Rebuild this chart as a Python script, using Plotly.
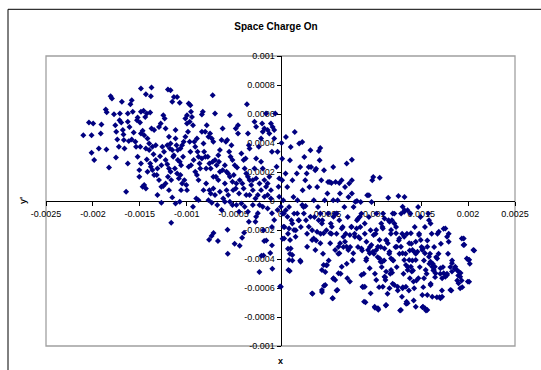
import plotly.graph_objects as go

# Particle coordinates, in micro-units (1e-6)
# upper-left lobe (x < 0)
x_left = [
    -2102,-2042,-1997,-2014,-2014,-1986,-1937,-1909,-1916,-1863,-1853,-1856,-1828,
    -1811,-1797,-1775,-1761,-1751,-1740,-1754,-1716,-1712,-1698,-1723,-1691,-1681,-1674,-1663,-1670,-1646,-1628,-1628,-1610,-1618,-1628,
    -1600,-1586,-1575,-1586,-1565,-1547,-1540,-1523,-1530,-1523,-1505,-1488,-1505,-1488,-1495,-1498,
    -1488,-1435,-1382,-1488,-1460,-1442,-1425,-1389,-1375,-1470,-1453,-1418,-1400,-1375,-1347,-1435,-1400,-1365,-1330,-1425,-1389,-1354,-1330,-1470,-1453,-1435,-1312,-1270,-1365,-1347,-1418,-1319,-1382,
    -1295,-1277,-1249,-1235,-1225,-1189,-1172,-1207,-1260,-1242,-1284,-1179,-1154,-1144,-1225,-1207,-1189,-1172,-1295,-1270,-1249,-1225,-1200,-1165,-1189,-1154,-1200,-1172,-1154,-1137,-1270,-1312,
    -1119,-1119,-1109,-1095,-1067,-1049,-1137,-1095,-1074,-1060,-1039,-1126,-1102,-1084,-1067,-1049,-1025,-1004,-997,-979,-1102,-1074,-1014,-997,-986,-968,-979,-961,-997,-1032,-1014,-968,-961,-1119,-1074,-1060,
    -954,-944,-933,-919,-909,-891,-874,-863,-856,-838,-828,-838,-821,-814,-800,-909,-891,-874,-838,-933,-898,-874,-821,-793,-793,-926,-954,-884,-803,-786,
    -768,-751,-733,-716,-723,-698,-775,-758,-744,-723,-698,-681,-663,-646,-628,-617,-716,-688,-663,-646,-758,-744,-716,-698,-646,-617,-768,-733,-674,-628,-656,
    -582,-568,-540,-523,-547,-533,-512,-488,-463,-593,-575,-558,-540,-512,-477,-453,-453,-498,-470,-435,-593,-575,-558,-540,-505,-477,-442,-611,-593,-512,-470,-442,
    -417,-393,-372,-358,-347,-337,-330,-382,-365,-347,-330,-312,-295,-407,-393,-365,-330,-295,-267,-277,-260,-260,-277,-260,-417,-382,-347,-295,-337,-267,-260,
    -231,-207,-196,-189,-172,-154,-137,-119,-102,-91,-207,-189,-172,-154,-137,-119,-102,-224,-207,-242,-172,-137,-102,-224,-189,-137,-91,-242,
    -67,-56,-42,-31,-21,-14,-14,-31,-67,-67,-84,-1165,
    -761,-735,-714,-667,-565,-562,-489,-435,-409,-388,-225,-203,-181,-181,-91,-174,-152,-109,-91,-87,-4,
]
y_left = [
    454,541,534,454,332,282,362,527,465,631,612,355,231,
    723,707,599,523,477,424,300,557,603,541,374,684,489,459,362,420,64,546,603,511,413,259,
    668,695,615,424,472,408,374,305,557,576,213,259,167,466,374,541,
    776,736,723,615,622,580,603,610,782,484,454,431,397,500,489,362,351,374,385,286,259,323,282,98,110,87,41,-12,213,179,201,179,236,
    511,534,592,569,500,443,397,385,374,339,309,362,351,305,282,254,224,201,144,98,103,121,167,144,75,25,769,764,684,718,247,224,
    489,431,385,351,362,385,316,282,270,247,305,224,190,156,179,121,144,110,75,236,718,677,569,534,477,546,672,661,592,408,443,408,339,-17,-5,75,
    615,580,523,408,374,431,305,259,224,477,615,596,397,339,305,201,179,144,293,-39,18,6,75,121,224,282,247,339,477,523,
    443,466,431,408,730,603,305,259,224,270,282,247,316,351,420,500,167,167,144,201,75,52,87,41,64,213,6,-12,-28,-62,270,
    408,420,592,385,339,305,282,247,231,247,201,190,167,133,500,523,466,179,121,144,121,75,41,-5,75,87,52,18,-5,-28,-28,-74,
    328,282,293,668,466,385,362,224,190,167,144,110,144,121,87,41,41,75,18,546,512,293,224,156,-17,-39,-74,-28,-143,-143,-108,
    374,431,534,477,500,603,489,466,534,339,270,224,144,98,121,167,75,121,75,41,29,41,18,-28,-39,-51,-85,-85,
    -131,603,236,339,98,156,29,-62,431,489,511,-150,
    -267,-242,-221,-276,-198,-364,-295,-308,-253,-219,-490,-377,-375,-202,-179,-276,-272,-359,-306,-467,-589,
]

# lower-right lobe (x > 0), first reading
x_right = [
    11,18,18,29,36,43,54,58,72,80,91,98,101,109,116,127,138,145,152,163,174,181,192,199,210,210,217,232,236,246,254,264,272,283,22,80,127,101,
    308,319,326,337,341,355,362,370,380,391,399,409,424,417,428,435,442,446,453,464,464,471,478,489,489,500,507,514,525,536,543,554,562,562,562,580,598,
    587,598,609,616,627,634,641,652,663,670,681,688,696,706,706,717,725,761,743,754,761,768,779,790,797,815,826,833,851,855,862,870,
    880,888,899,906,913,924,942,942,953,960,971,978,989,996,1007,1007,1014,1022,1036,1043,1051,1058,1069,1079,1087,1094,1105,1116,1123,1130,1141,1149,1152,1159,
    1170,1177,1188,1196,1203,1214,1225,1232,1239,1250,1257,1261,1268,1275,1286,1297,1304,1311,1322,1322,1333,1340,1348,1359,1369,1377,1384,1395,1406,1413,1420,1431,1442,1449,
    1467,1478,1485,1493,1504,1514,1522,1529,1540,1551,1558,1565,1576,1587,1594,1601,1612,1623,1630,1638,1648,1659,1667,1674,1685,1696,1703,1710,1721,1732,1739,
    1775,1786,1793,1811,1822,1829,1858,1884,1895,1920,1931,1938,1953,1960,2011,2018,2011,2065,
    279,301,380,507,543,627,732,761,815,
]
y_right = [
    400,292,143,5,-87,-179,189,442,97,-226,-41,-483,281,373,-133,143,28,-87,476,-202,189,5,-133,396,-410,235,-179,407,74,-41,304,143,-133,-226,-260,-329,-410,-364,
    97,350,235,-202,-640,5,-110,212,-272,97,-41,345,366,281,-226,143,-628,-133,-364,-584,212,5,-490,-444,-202,51,-87,-410,131,-156,-226,-670,-536,5,235,-87,-617,
    131,-226,5,-364,-133,51,-502,143,-179,-318,-41,97,-226,-433,258,-110,28,285,-318,-179,143,-410,-41,-226,-5,-133,-318,-249,-179,-7,-87,-341,
    -594,-502,-226,-698,-410,39,39,-110,-318,-202,-7,143,166,-364,-736,-502,-226,-87,-387,-750,-594,161,-318,-456,-179,-87,-410,-525,-720,-272,-640,23,-133,-364,
    -502,-226,-133,-571,-410,-87,-318,-179,-456,-617,35,-272,-364,-755,-87,-226,-594,-502,28,-64,-364,-709,-226,-456,-617,-341,-87,-295,-410,-479,-686,-179,-364,-548,
    -41,-226,-456,-110,-318,-732,-594,-410,-179,-755,-502,-272,-87,-433,-364,-571,-226,-433,-479,-318,-525,-387,-663,-226,-364,-663,-502,-295,-617,-456,-191,
    -502,-364,-226,-456,-617,-410,-467,-548,-513,-497,-548,-594,-258,-301,-405,-433,-557,-341,
    189,235,223,131,124,124,120,51,0,
]

# lower-right lobe, second (closer) reading below the x axis
x_right_lower = [
    4,21,56,74,32,91,126,144,39,102,109,126,91,84,4,214,179,197,161,
    232,267,249,302,319,337,354,372,284,390,407,425,442,460,425,337,442,460,495,442,477,530,
    530,547,565,600,583,618,635,628,653,670,565,583,618,653,607,558,
    688,705,723,740,758,776,793,811,828,846,769,846,863,712,740,863,874,898,891,
    898,916,933,951,969,986,993,1021,1039,1056,916,951,961,1021,1056,1067,1084,1091,1004,1039,1021,1074,1091,1109,
    1109,1126,1144,1162,1179,1197,1126,1109,1119,1179,1190,1162,1214,1249,1126,1284,1295,1197,1214,1232,1267,1179,1162,1239,1284,1302,1319,1319,
    1337,1355,1372,1390,1400,1407,1425,1442,1460,1477,1495,1512,1344,1355,1425,1442,1379,1418,1470,1442,1302,1319,1355,1390,1372,1302,1337,
    1519,1540,1565,1583,1600,1618,1635,1653,1548,1530,1512,1565,1519,1540,1565,1600,1618,1583,1600,1646,1670,1688,1705,1723,
    1758,1776,1793,1740,1758,1776,1811,1828,1863,1881,1898,1916,1933,1951,1986,2004,1997,1898,1916,2056,1828,1723,1705,
]
y_right_lower = [
    -40,-86,-63,-109,-177,-189,-155,-200,-258,-269,-327,-373,-407,-476,-591,-419,-86,-132,-246,
    -28,-35,-86,-177,-109,-269,-258,-338,-315,-212,-132,-86,-155,-223,-292,-637,-476,-442,-442,-614,-579,-292,
    -223,-177,-109,-86,-338,-315,-292,-361,-189,-246,-533,-545,-499,-453,-614,-671,
    -281,-315,-338,-235,-177,-361,-246,-189,-120,-109,-407,-258,-327,-533,-556,-510,-591,-591,-694,
    -155,-281,-338,-361,-304,-350,-235,-338,-315,-269,-396,-464,-637,-545,-396,-419,-419,-591,-729,-740,-200,-155,-189,-120,
    -327,-269,-292,-350,-396,-407,-487,-522,-545,-476,-494,-602,-579,-591,-717,-751,-660,-86,-155,-223,-258,-200,-143,-315,-315,-361,-407,-246,
    -442,-476,-407,-453,-487,-338,-350,-407,-350,-235,-269,-338,-694,-706,-602,-729,-533,-556,-533,-281,-40,-74,-63,-223,-292,-602,-591,
    -327,-361,-315,-384,-419,-453,-476,-499,-476,-533,-648,-648,-729,-740,-751,-579,-660,-132,-155,-453,-396,-212,-464,-533,
    -189,-246,-281,-499,-522,-510,-614,-430,-453,-476,-487,-522,-258,-304,-396,-407,-556,-568,-602,-338,-487,-660,-671,
]

x_ticks = [-0.0025, -0.002, -0.0015, -0.001, -0.0005, 0, 0.0005, 0.001, 0.0015, 0.002, 0.0025]
x_tick_labels = ["-0.0025", "-0.002", "-0.0015", "-0.001", "-0.0005", "0",
                 "0.0005", "0.001", "0.0015", "0.002", "0.0025"]
y_ticks = [0.001, 0.0008, 0.0006, 0.0004, 0.0002, 0, -0.0002, -0.0004, -0.0006, -0.0008, -0.001]
y_tick_labels = ["0.001", "0.0008", "0.0006", "0.0004", "0.0002", "0",
                 "-0.0002", "-0.0004", "-0.0006", "-0.0008", "-0.001"]

xs, ys = [], []
for xa, ya in ((x_left, y_left), (x_right, y_right), (x_right_lower, y_right_lower)):
    n = min(len(xa), len(ya))
    xs += xa[:n]
    ys += ya[:n]
x = [v * 1e-6 for v in xs]
y = [v * 1e-6 for v in ys]

FONT = "Liberation Sans, Arial, sans-serif"

fig = go.Figure()
fig.add_trace(go.Scatter(
    x=x, y=y, mode="markers",
    marker=dict(symbol="diamond", size=4.6, color="#000080", line=dict(width=0)),
    showlegend=False, hoverinfo="skip",
))

axis_common = dict(
    showgrid=False, zeroline=False, showline=True, linecolor="black", linewidth=1,
    ticks="outside", ticklen=4, tickcolor="black", tickwidth=1,
    tickfont=dict(family=FONT, size=9, color="black"),
    layer="below traces", fixedrange=True,
)

fig.update_layout(
    width=541, height=370,
    margin=dict(l=46, r=20, t=56, b=24, pad=0),
    paper_bgcolor="white", plot_bgcolor="white",
    title=dict(text="<b>Space Charge On</b>", x=276 / 541, xanchor="center",
               y=1 - 26 / 370, yanchor="middle",
               font=dict(family=FONT, size=10, color="black")),
    xaxis=dict(range=[-0.0025, 0.0025], tickvals=x_ticks, ticktext=x_tick_labels,
               anchor="free", position=0.5, **axis_common),
    yaxis=dict(range=[-0.001, 0.001], tickvals=y_ticks, ticktext=y_tick_labels,
               anchor="free", position=0.5, **axis_common),
    shapes=[
        dict(type="rect", xref="paper", yref="paper", x0=0, x1=1, y0=0, y1=1,
             line=dict(color="#a0a0a0", width=1.3), layer="below"),
        dict(type="rect", xref="paper", yref="paper", x0=-0.081, x1=1.2, y0=-0.3, y1=1.161,
             line=dict(color="black", width=1), layer="below"),
    ],
    annotations=[
        dict(text="<b>x</b>", xref="paper", yref="paper", x=0.5, y=-0.052,
             showarrow=False, font=dict(family=FONT, size=9, color="black"),
             xanchor="center", yanchor="middle"),
        dict(text="<b>y'</b>", xref="paper", yref="paper", x=-0.049, y=0.5,
             showarrow=False, textangle=-90, font=dict(family=FONT, size=9, color="black"),
             xanchor="center", yanchor="middle"),
    ],
)

fig.write_html("out.html", config={"displayModeBar": False, "staticPlot": True},
               post_script="document.body.style.margin='0px';")
